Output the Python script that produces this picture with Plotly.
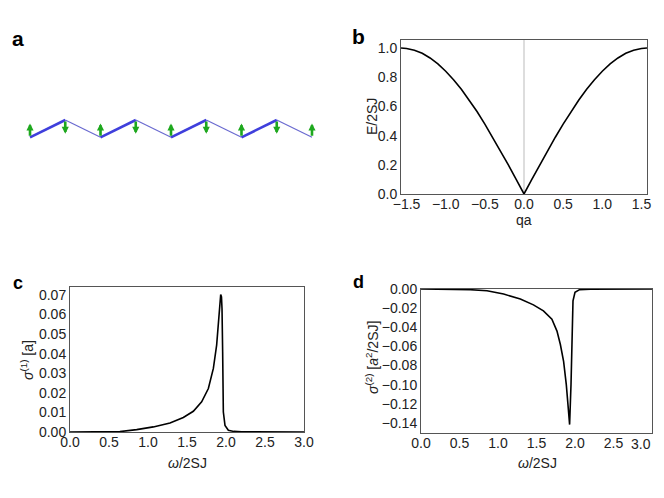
import plotly.graph_objects as go

# panel a: zigzag chain, site positions and spin directions
site_x = [0, 1, 2, 3, 4, 5, 6, 7, 8]
site_y = [0, 1, 0, 1, 0, 1, 0, 1, 0]
spin = [1, -1, 1, -1, 1, -1, 1, -1, 1]

# panel b: dispersion
qa = [-1.571, -1.5, -1.4, -1.3, -1.2, -1.1, -1.0, -0.9, -0.8, -0.7, -0.6, -0.5, -0.4, -0.3, -0.2, -0.1, 0.0,
      0.1, 0.2, 0.3, 0.4, 0.5, 0.6, 0.7, 0.8, 0.9, 1.0, 1.1, 1.2, 1.3, 1.4, 1.5, 1.571]
energy = [1.0, 0.997, 0.985, 0.964, 0.932, 0.891, 0.841, 0.783, 0.717, 0.644, 0.565, 0.479, 0.389, 0.296, 0.199, 0.1, 0.0,
          0.1, 0.199, 0.296, 0.389, 0.479, 0.565, 0.644, 0.717, 0.783, 0.841, 0.891, 0.932, 0.964, 0.985, 0.997, 1.0]

# panel c: sigma(1)
omega_c = [0.0, 0.4, 0.64, 0.855, 1.068, 1.282, 1.453, 1.581, 1.688, 1.774, 1.838, 1.88, 1.91, 1.924, 1.932,
           1.942, 1.949, 1.957, 1.966, 1.987, 2.03, 2.1, 2.2, 3.0]
sigma1 = [0.0, 0.0, 0.0002, 0.0012, 0.0026, 0.0046, 0.0074, 0.0106, 0.0154, 0.0222, 0.0325, 0.0444, 0.058, 0.066,
          0.0703, 0.069, 0.063, 0.041, 0.0102, 0.0034, 0.0009, 0.0003, 0.0001, 0.0]

# panel d: sigma(2)
omega_d = [0.0, 0.4, 0.64, 0.857, 1.073, 1.29, 1.46, 1.59, 1.70, 1.766, 1.81, 1.852, 1.887, 1.913, 1.93,
           1.948, 1.96, 1.974, 2.0, 2.06, 2.2, 3.0]
sigma2 = [0.0, -0.0002, -0.0007, -0.0018, -0.0053, -0.0105, -0.0166, -0.0229, -0.0316, -0.044, -0.058, -0.0756,
          -0.100, -0.125, -0.1417, -0.100, -0.037, -0.0123, -0.0035, -0.0007, -0.0002, 0.0]

omega_ticks = [0, 0.5, 1.0, 1.5, 2.0, 2.5, 3.0]
omega_labels = ['0.0', '0.5', '1.0', '1.5', '2.0', '2.5', '3.0']

# the page body adds 8px before the figure
OFF = 8
W, H = 664 - OFF, 498 - 2 * OFF


def fx(p):
    return (p - OFF) / W


def fy(p):
    return 1 - (p - OFF) / H


fig = go.Figure()

# bonds: thick from lower to upper site, thin from upper to lower
thick_x, thick_y, thin_x, thin_y = [], [], [], []
for i in range(len(site_x) - 1):
    if site_y[i] == 0:
        thick_x += [site_x[i], site_x[i + 1], None]
        thick_y += [site_y[i], site_y[i + 1], None]
    else:
        thin_x += [site_x[i], site_x[i + 1], None]
        thin_y += [site_y[i], site_y[i + 1], None]

fig.add_trace(go.Scatter(x=thin_x, y=thin_y, mode='lines', line=dict(color='#6a6ad0', width=1.2),
                         xaxis='x', yaxis='y', showlegend=False))
fig.add_trace(go.Scatter(x=thick_x, y=thick_y, mode='lines', line=dict(color='#3f3fdc', width=2.6),
                         xaxis='x', yaxis='y', showlegend=False))

annotations = []
for sx, sy, s in zip(site_x, site_y, spin):
    tip = sy + 0.8 if s > 0 else sy - 0.8
    annotations.append(dict(x=sx, y=tip, ax=sx, ay=sy, xref='x', yref='y', axref='x', ayref='y',
                            text='', showarrow=True, arrowhead=2, arrowsize=0.55, arrowwidth=2.6,
                            arrowcolor='#1ea81e'))

fig.add_trace(go.Scatter(x=[0, 0], y=[0, 1.055], mode='lines', line=dict(color='#bbbbbb', width=1),
                         xaxis='x2', yaxis='y2', showlegend=False))
fig.add_trace(go.Scatter(x=qa, y=energy, mode='lines', line=dict(color='black', width=1.6),
                         xaxis='x2', yaxis='y2', showlegend=False))
fig.add_trace(go.Scatter(x=omega_c, y=sigma1, mode='lines', line=dict(color='black', width=1.6),
                         xaxis='x3', yaxis='y3', showlegend=False))
fig.add_trace(go.Scatter(x=omega_d, y=sigma2, mode='lines', line=dict(color='black', width=1.6),
                         xaxis='x4', yaxis='y4', showlegend=False))

font_name = 'Liberation Sans, Arial'
tickfont = dict(family=font_name, size=14, color='#222')
frame = dict(showline=True, mirror=True, linecolor='#555', linewidth=1, showgrid=False, zeroline=False,
             ticks='', tickfont=tickfont, automargin=False)
xframe = dict(frame, ticklabelstandoff=-3)
titlefont = dict(family=font_name, size=14, color='#222')

# panel letters
for lab, x, y, sz in [('a', 18, 38, 21), ('b', 358, 36, 21), ('c', 18, 283, 18), ('d', 358, 282, 18)]:
    annotations.append(dict(text='<b>%s</b>' % lab, x=fx(x), y=fy(y), xref='paper', yref='paper',
                            xanchor='center', yanchor='middle', showarrow=False,
                            font=dict(family=font_name, size=sz, color='black')))

# axis titles
titles = [
    ('qa', 524, 220, 0),
    ('E/2SJ', 372, 117, -90),
    ('<i>ω</i>/2SJ', 187, 463, 0),
    ('<i>σ</i><sup>(1)</sup> [a]', 27, 360, -90),
    ('<i>ω</i>/2SJ', 537, 463, 0),
    ('<i>σ</i><sup>(2)</sup> [<i>a</i><sup>2</sup>/2SJ]', 372, 358, -90),
]
for txt, x, y, ang in titles:
    annotations.append(dict(text=txt, x=fx(x), y=fy(y), xref='paper', yref='paper', textangle=ang,
                            xanchor='center', yanchor='middle', showarrow=False, font=titlefont))

# last tick label of panel d sits pulled inside the picture edge, as in the original
annotations.append(dict(text=omega_labels[-1], x=fx(653), y=fy(444), xref='paper', yref='paper',
                        xanchor='right', yanchor='middle', showarrow=False, font=tickfont))

fig.update_layout(
    width=W, height=H,
    margin=dict(l=0, r=0, t=0, b=0),
    plot_bgcolor='white', paper_bgcolor='white',
    xaxis=dict(domain=[fx(20), fx(322)], range=[-0.284, 8.284], visible=False),
    yaxis=dict(domain=[fy(150), fy(100)], range=[-0.734, 2.156], visible=False),
    xaxis2=dict(xframe, domain=[fx(401), fx(647)], anchor='y2', range=[-1.571, 1.571],
                tickvals=[-1.5, -1.0, -0.5, 0.0, 0.5, 1.0, 1.5], tickformat='.1f'),
    yaxis2=dict(frame, domain=[fy(194), fy(40)], anchor='x2', range=[0, 1.055],
                tickvals=[0, 0.2, 0.4, 0.6, 0.8, 1.0], tickformat='.1f'),
    xaxis3=dict(xframe, domain=[fx(70), fx(304)], anchor='y3', range=[0, 3],
                tickvals=omega_ticks, ticktext=omega_labels),
    yaxis3=dict(frame, domain=[fy(432), fy(287)], anchor='x3', range=[0, 0.0741],
                tickvals=[0, 0.01, 0.02, 0.03, 0.04, 0.05, 0.06, 0.07], tickformat='.2f'),
    xaxis4=dict(xframe, domain=[fx(421), fx(652)], anchor='y4', range=[0, 3],
                tickvals=omega_ticks, ticktext=omega_labels[:-1] + ['']),
    yaxis4=dict(frame, domain=[fy(433), fy(289)], anchor='x4', range=[-0.1505, 0],
                tickvals=[0, -0.02, -0.04, -0.06, -0.08, -0.10, -0.12, -0.14], tickformat='.2f'),
    annotations=annotations,
)

fig.write_html("out.html")
